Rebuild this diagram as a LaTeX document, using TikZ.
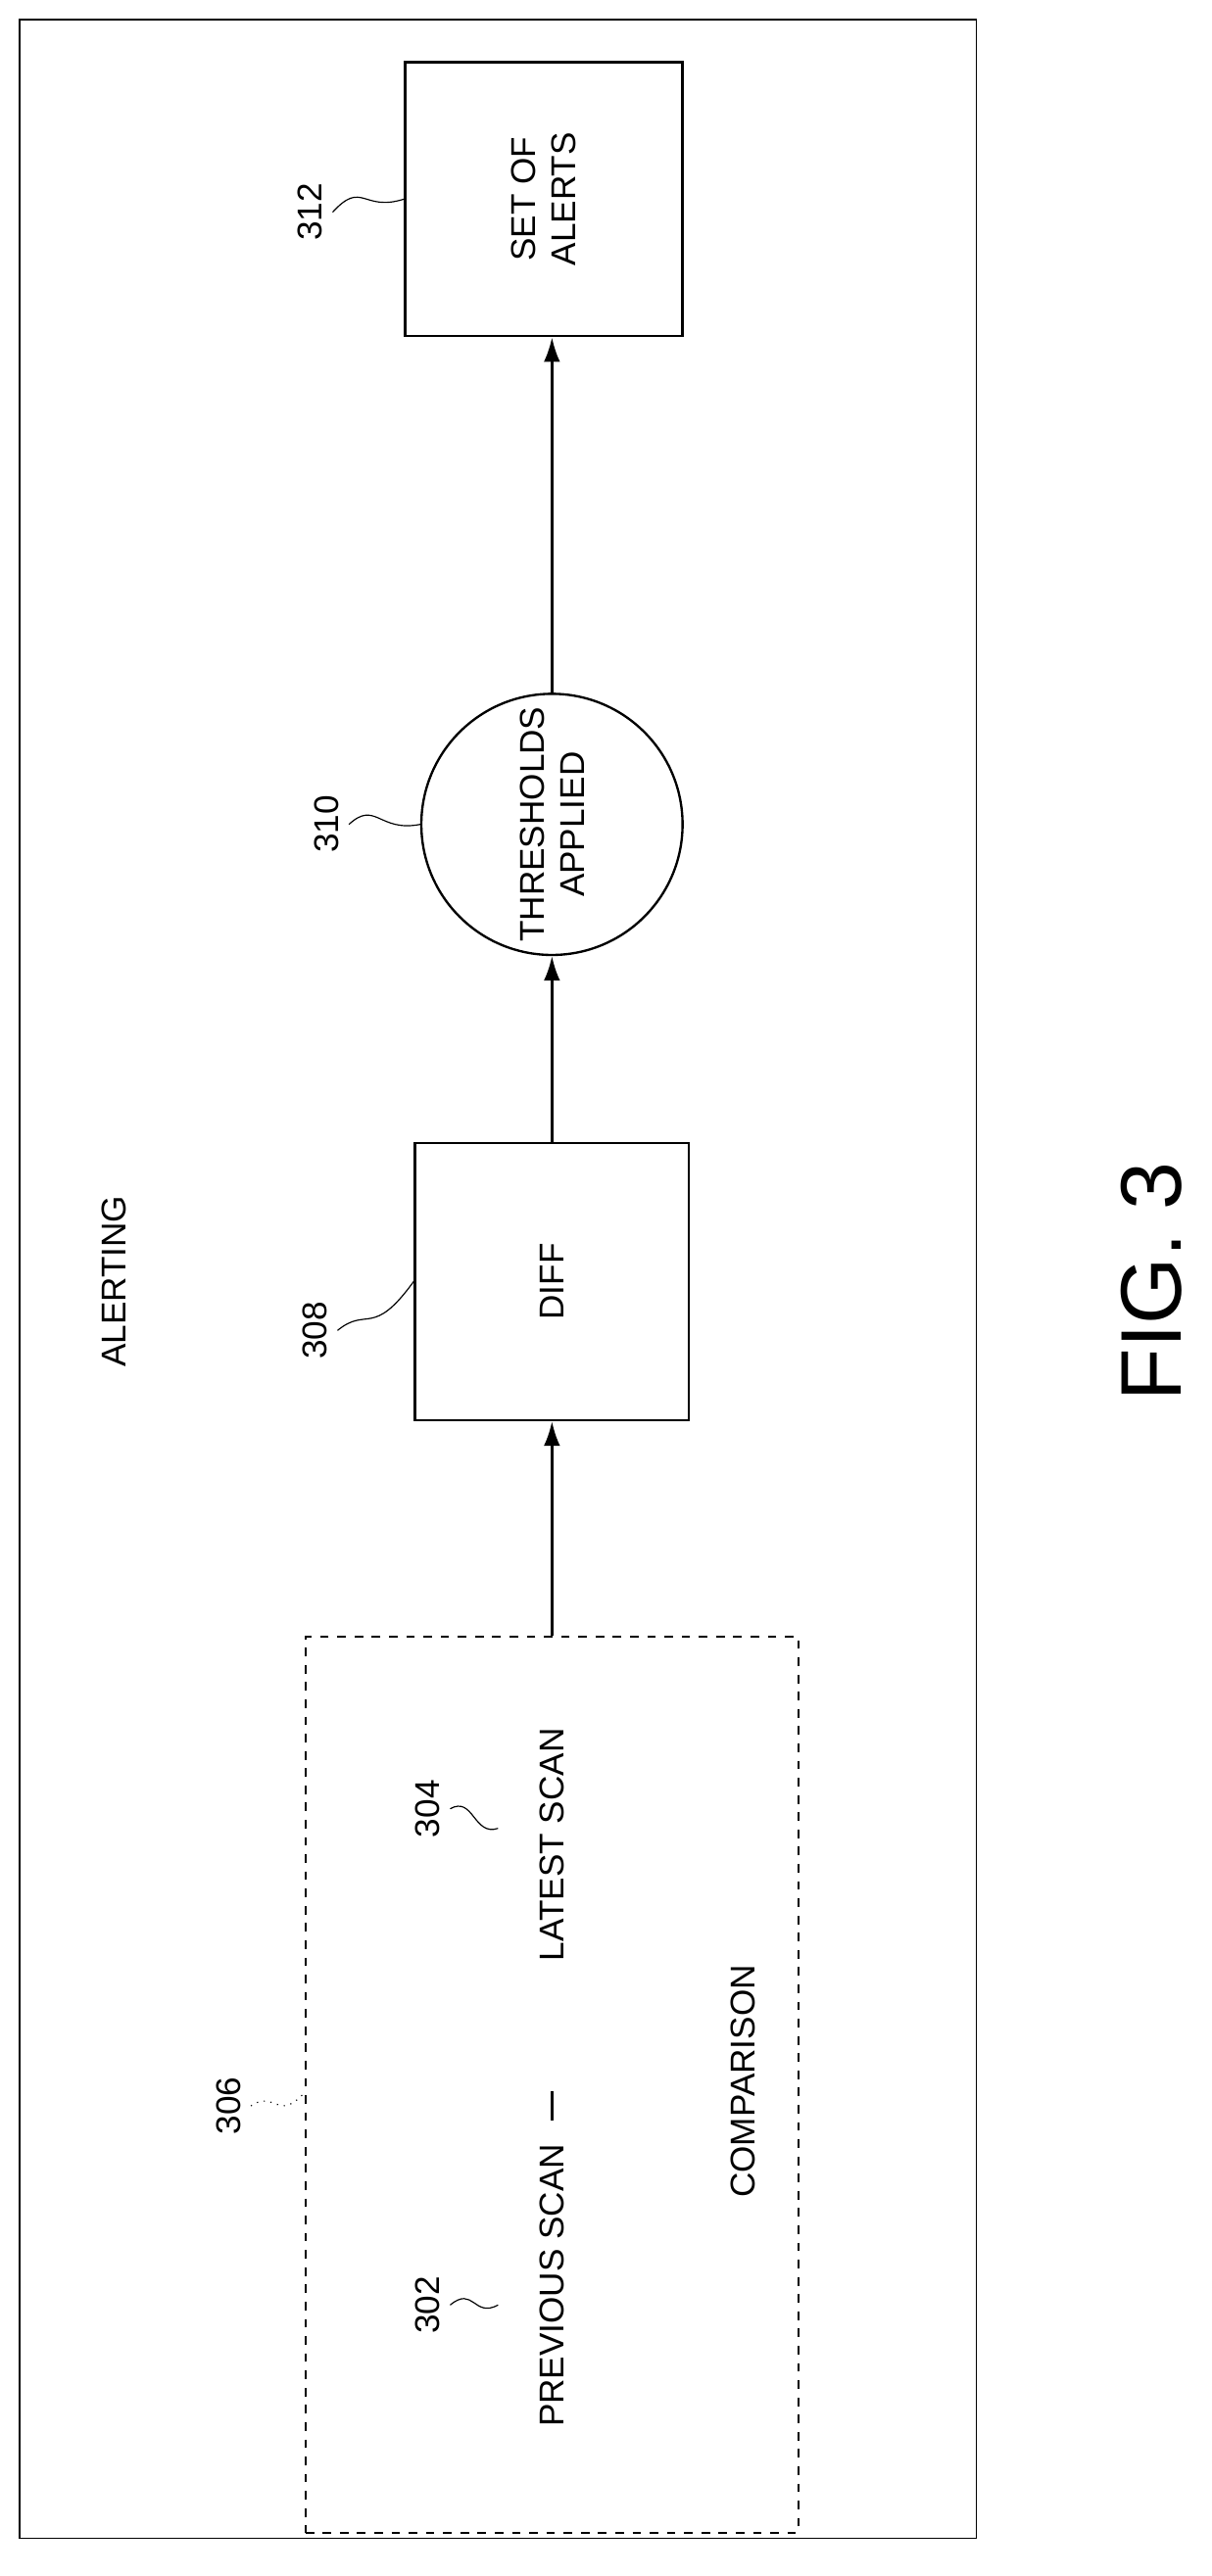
\documentclass[tikz,border=0pt]{standalone}
\usepackage{fontspec}
\setmainfont{Liberation Sans}
\usetikzlibrary{positioning,arrows.meta}

\tikzset{
  lbl/.style={rotate=90, font=\fontsize{12}{14}\selectfont, align=center},
  blk/.style={draw, thick, minimum width=3.36cm, minimum height=3.4cm},
  flow/.style={-{Latex[length=3mm,width=2mm]}, thick},
  lead/.style={thin}
}

\begin{document}
\begin{tikzpicture}[x=0.02cm, y=-0.02cm]
    \useasboundingbox (0,0) rectangle (742,1578);
    % Outer frame
    \draw[thin] (12,12) rectangle (598,1555);
    \node[lbl] (alerting) at (70,785) {ALERTING};

    % Blocks
    \node[blk, minimum width=3.4cm, minimum height=3.36cm] (alerts) at (333,122) {};
    \node[lbl] at (alerts) {SET OF\\ALERTS};
    \node[draw, thick, circle, minimum size=3.2cm] (thresh) at (338,505) {};
    \node[lbl] at (thresh) {THRESHOLDS\\APPLIED};
    \node[blk] (diff) at (338,785) {};
    \node[lbl] at (diff) {DIFF};
    \node[draw, thick, dashed, minimum width=6.04cm, minimum height=10.98cm] (comp) at (338,1277) {};

    % Scan texts
    \node[lbl] (latest) at (338,1130) {LATEST SCAN};
    \node[lbl] (prev) at (338,1400) {PREVIOUS SCAN};
    \node[lbl] (comparison) at (455,1275) {COMPARISON};
    \coordinate (dashA) at (338,1281);
    \coordinate (dashB) at (338,1299);
    \draw[thick] (dashA) -- (dashB);

    % Connectors
    \draw[flow] (comp.north) -- (diff.south);
    \draw[flow] (diff.north) -- (thresh.south);
    \draw[flow] (thresh.north) -- (thresh.north |- alerts.south);

    % Reference numerals
    \node[lbl] (n312) at (190,130) {312};
    \node[lbl] (n310) at (200,505) {310};
    \node[lbl] (n308) at (193,815) {308};
    \node[lbl] (n304) at (262,1108) {304};
    \node[lbl] (n302) at (262,1412) {302};
    \node[lbl] (n306) at (140,1290) {306};
    \draw[lead] (n312.south) .. controls (222,110) and (222,130) .. (alerts.west);
    \draw[lead] (n310.south) .. controls (230,490) and (232,510) .. (thresh.west);
    \draw[lead] (n308.south) .. controls (225,800) and (228,820) .. (diff.west);
    \draw[lead] (n304.south) .. controls (290,1100) and (290,1125) .. (305,1120);
    \draw[lead] (n302.south) .. controls (290,1400) and (290,1420) .. (305,1412);
    \draw[lead, dotted] (n306.south) .. controls (168,1280) and (170,1300) .. (comp.west |- 0,1282);

    \node[rotate=90, font=\fontsize{30}{34}\selectfont] (fig) at (705,785) {FIG. 3};
\end{tikzpicture}
\end{document}
